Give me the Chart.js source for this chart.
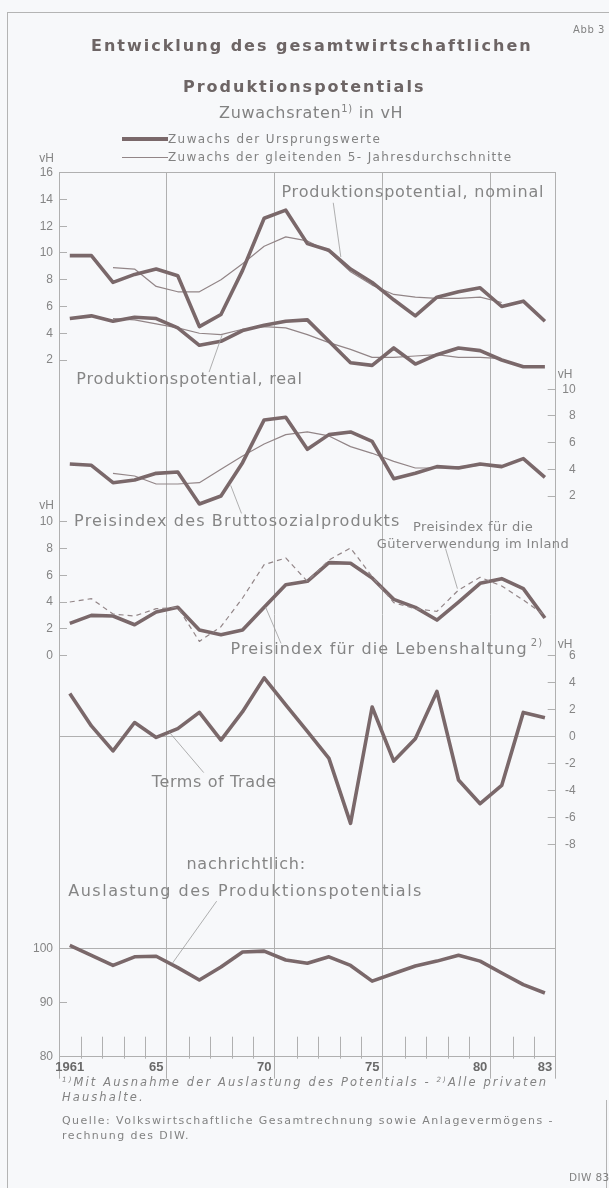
<!DOCTYPE html>
<html lang="de"><head><meta charset="utf-8"><title>Entwicklung des gesamtwirtschaftlichen Produktionspotentials</title>
<script src="https://cdn.jsdelivr.net/npm/chart.js@4.4.1/dist/chart.umd.min.js"></script>
<style>
html,body{margin:0;padding:0;background:#f7f8fa;}
#wrap{position:relative;width:609px;height:1188px;overflow:hidden;font-family:'DejaVu Sans',sans-serif;color:#828282;}
#c{position:absolute;left:0;top:0;}
.t{position:absolute;white-space:nowrap;line-height:1;}
.ln{position:absolute;}
.fr{position:absolute;background:#b4b4b4;}
sup{font-size:0.62em;vertical-align:0;position:relative;top:-0.6em;}
</style></head><body>
<div id="wrap">
<canvas id="c" width="609" height="1188"></canvas>
<div class="fr" style="left:7px;top:12px;width:602px;height:1px"></div>
<div class="fr" style="left:7px;top:12px;width:1px;height:1176px"></div>
<div class="fr" style="left:606px;top:1100px;width:1px;height:88px"></div>
<div class="t" style="left:573px;top:25px;font-size:10px;letter-spacing:0.6px">Abb 3</div>
<div class="t" style="left:91px;top:38px;font-size:16px;font-weight:bold;letter-spacing:2px;color:#6d6565">Entwicklung des gesamtwirtschaftlichen</div>
<div class="t" style="left:183px;top:79px;font-size:16px;font-weight:bold;letter-spacing:2px;color:#6d6565">Produktionspotentials</div>
<div class="t" style="left:219px;top:105px;font-size:16px;letter-spacing:0.7px">Zuwachsraten<sup>1)</sup> in vH</div>
<div class="ln" style="left:122px;top:137px;width:46px;height:3.5px;background:#7a686a"></div>
<div class="t" style="left:168px;top:133px;font-size:12px;letter-spacing:1.4px">Zuwachs der Ursprungswerte</div>
<div class="ln" style="left:122px;top:156.5px;width:46px;height:1.2px;background:#928587"></div>
<div class="t" style="left:168px;top:151px;font-size:12px;letter-spacing:1.35px">Zuwachs der gleitenden 5- Jahresdurchschnitte</div>
<div class="t" style="left:62px;top:1077px;font-size:11.5px;letter-spacing:2.1px;font-style:italic"><sup>1)</sup>Mit Ausnahme der Auslastung des Potentials - <sup>2)</sup>Alle privaten</div>
<div class="t" style="left:62px;top:1092px;font-size:11.5px;letter-spacing:2.1px;font-style:italic">Haushalte.</div>
<div class="t" style="left:62px;top:1115px;font-size:11px;letter-spacing:1.45px">Quelle: Volkswirtschaftliche Gesamtrechnung sowie Anlagevermögens -</div>
<div class="t" style="left:62px;top:1130px;font-size:11px;letter-spacing:1.45px">rechnung des DIW.</div>
<div class="t" style="left:569px;top:1172px;font-size:10.5px;letter-spacing:0.4px">DIW 83</div>
</div>
<script>
// ---------- data ----------
const years = [1961,1962,1963,1964,1965,1966,1967,1968,1969,1970,1971,1972,1973,1974,1975,1976,1977,1978,1979,1980,1981,1982,1983];
const nominalGrowth = [9.8,9.8,7.8,8.4,8.8,8.3,4.5,5.4,8.7,12.6,13.2,10.7,10.2,8.8,7.8,6.5,5.3,6.7,7.1,7.4,6.0,6.4,4.9];
const nominalAvg5   = [null,null,8.9,8.8,7.5,7.1,7.1,8.0,9.2,10.5,11.2,10.9,10.1,8.6,7.6,6.9,6.7,6.6,6.6,6.7,6.3,null,null];
const realGrowth    = [5.1,5.3,4.9,5.2,5.1,4.4,3.1,3.4,4.2,4.6,4.9,5.0,3.4,1.8,1.6,2.9,1.7,2.4,2.9,2.7,2.0,1.5,1.5];
const realAvg5      = [null,null,5.1,5.0,4.7,4.4,4.0,3.9,4.3,4.5,4.4,3.9,3.3,2.8,2.2,2.2,2.3,2.4,2.2,2.2,2.1,null,null];
const gnpDeflator   = [4.4,4.3,3.0,3.2,3.7,3.8,1.4,2.0,4.5,7.7,7.9,5.5,6.6,6.8,6.1,3.3,3.7,4.2,4.1,4.4,4.2,4.8,3.4];
const gnpDeflAvg5   = [null,null,3.7,3.5,2.9,2.9,3.0,4.0,5.0,5.9,6.6,6.8,6.5,5.7,5.2,4.6,4.1,4.1,4.2,4.3,4.3,null,null];
const domesticUse   = [4.0,4.25,3.1,2.95,3.5,3.6,1.05,2.15,4.3,6.8,7.3,5.55,7.15,8.05,5.9,3.95,3.5,3.3,4.9,5.85,5.2,4.15,3.0];
const costOfLiving  = [2.4,3.0,2.95,2.3,3.25,3.6,1.9,1.55,1.9,3.6,5.3,5.55,6.95,6.9,5.8,4.2,3.6,2.65,4.0,5.4,5.75,5.0,2.8];
const termsOfTrade  = [3.2,0.8,-1.05,1.05,-0.05,0.6,1.8,-0.25,1.85,4.35,2.35,0.4,-1.6,-6.4,2.2,-1.8,-0.15,3.35,-3.2,-4.95,-3.6,1.8,1.4];
const utilization   = [100.6,98.75,96.9,98.5,98.6,96.5,94.2,96.6,99.4,99.55,97.9,97.3,98.5,96.9,94.0,95.4,96.8,97.7,98.8,97.7,95.5,93.35,91.8];

// tick labels
const xLabelYears = [1961,1965,1970,1975,1980,1983];
const xLabelText  = ['1961','65','70','75','80','83'];
const ticksA = [16,14,12,10,8,6,4,2];
const ticksB = [10,8,6,4,2];
const ticksC = [10,8,6,4,2,0];
const ticksD = [6,4,2,0,-2,-4,-6,-8];
const ticksE = [100,90,80];

// ---------- styles ----------
const THICK = '#7a686a', THIN = '#928587', GRID = '#b0b0b0', TXT = '#858585';
const NUMFONT = "'Liberation Sans','Arimo',sans-serif";
const tickFont = {family: NUMFONT, size: 12};
const CLEAR = 'rgba(0,0,0,0)';

const edges = years.map(y => y - 0.5).concat([years[years.length - 1] + 0.5]);
const majorEdges = edges.filter(e => (e + 0.5) % 5 === 1 || e === edges[0] || e === edges[edges.length - 1]);
const minorEdges = edges.filter(e => !majorEdges.includes(e));

const pts = vals => years.map((y, i) => ({x: y, y: vals[i]})).filter(p => p.y !== null);

function yScale(position, min, max, ticks, fullLines, border) {
  const right = position === 'right';
  return {
    type: 'linear', position, min, max, bounds: 'data',
    afterFit: s => { s.width = 0; if (!right) s._computeLabelArea = () => null; },
    afterBuildTicks: s => { s.ticks = ticks.map(v => ({value: v})); },
    grid: {
      color: c => (c.tick && fullLines.includes(c.tick.value)) ? GRID : CLEAR,
      tickColor: GRID, tickLength: -8, lineWidth: 1
    },
    border: {display: border, color: GRID, width: 1},
    ticks: {
      autoSkip: false, color: TXT, font: tickFont,
      mirror: right, crossAlign: 'near',
      padding: right ? 20 : 14,
      callback: v => String(v)
    }
  };
}

// annotation labels (data coordinates)
const notes = [
  {text: 'Produktionspotential, nominal', axis: 'yA', x: 1970.8, y: 14.5, size: 16, ls: 0.8},
  {text: 'Produktionspotential, real', axis: 'yA', x: 1961.3, y: 0.5, size: 16, ls: 0.8},
  {text: 'Preisindex des Bruttosozialprodukts', axis: 'yC', x: 1961.2, y: 10, size: 16, ls: 1.15},
  {text: 'Preisindex für die', axis: 'yC', x: 1979.67, y: 9.6, size: 13, ls: 0.4, align: 'center'},
  {text: 'Güterverwendung im Inland', axis: 'yC', x: 1979.67, y: 8.28, size: 13, ls: 0.4, align: 'center'},
  {text: 'Preisindex für die Lebenshaltung', axis: 'yC', x: 1968.44, y: 0.41, size: 16, ls: 1.1, sup: '2)'},
  {text: 'Terms of Trade', axis: 'yD', x: 1964.8, y: -3.43, size: 16, ls: 0.6},
  {text: 'nachrichtlich:', axis: 'yE', x: 1966.4, y: 115.6, size: 16, ls: 0.8},
  {text: 'Auslastung des Produktionspotentials', axis: 'yE', x: 1960.93, y: 110.6, size: 16, ls: 1.5}
];
const leaders = [
  {axis: 'yA', from: [1973.2, 13.75], to: [1973.55, 9.7]},
  {axis: 'yA', from: [1967.45, 1.1], to: [1968.05, 3.85]},
  {axis: 'yB', from: [1968.95, 0.7], to: [1968.45, 2.8]},
  {axis: 'yC', from: [1978.4, 8.0], to: [1978.95, 5.0]},
  {axis: 'yC', from: [1970.78, 0.9], to: [1970.07, 3.6]},
  {axis: 'yD', from: [1967.2, -2.65], to: [1965.6, 0.35]},
  {axis: 'yE', from: [1967.8, 108.8], to: [1965.75, 97.3]}
];
const unitLabels = [
  {axis: 'yA', value: 16, side: 'left', dy: -14},
  {axis: 'yB', value: 10, side: 'right', dy: -15},
  {axis: 'yC', value: 10, side: 'left', dy: -16},
  {axis: 'yD', value: 6, side: 'right', dy: -11}
];

const decor = {
  id: 'decor',
  afterDatasetsDraw(chart) {
    const {ctx, chartArea: a, scales: s} = chart;
    ctx.save();
    ctx.strokeStyle = GRID; ctx.lineWidth = 1;
    minorEdges.forEach(v => {
      const px = Math.round(s.x.getPixelForValue(v)) + 0.5;
      ctx.beginPath(); ctx.moveTo(px, a.bottom - 20); ctx.lineTo(px, a.bottom + 2); ctx.stroke();
    });
    ctx.strokeStyle = '#9c9c9c'; ctx.lineWidth = 0.8;
    leaders.forEach(l => {
      const sc = s[l.axis];
      ctx.beginPath();
      ctx.moveTo(s.x.getPixelForValue(l.from[0]), sc.getPixelForValue(l.from[1]));
      ctx.lineTo(s.x.getPixelForValue(l.to[0]), sc.getPixelForValue(l.to[1]));
      ctx.stroke();
    });
    ctx.fillStyle = TXT; ctx.textBaseline = 'middle';
    notes.forEach(n => {
      ctx.font = n.size + "px 'DejaVu Sans', sans-serif";
      ctx.letterSpacing = n.ls + 'px';
      ctx.textAlign = n.align || 'left';
      const px = s.x.getPixelForValue(n.x), py = s[n.axis].getPixelForValue(n.y);
      ctx.fillText(n.text, px, py);
      if (n.sup) {
        const w = ctx.measureText(n.text).width;
        ctx.font = Math.round(n.size * 0.65) + "px 'DejaVu Sans', sans-serif";
        ctx.fillText(n.sup, px + w + 3, py - 7);
      }
    });
    ctx.letterSpacing = '0px';
    ctx.font = tickFont.size + 'px ' + NUMFONT;
    unitLabels.forEach(u => {
      const py = s[u.axis].getPixelForValue(u.value) + u.dy;
      if (u.side === 'left') { ctx.textAlign = 'right'; ctx.fillText('vH', a.left - 5, py); }
      else { ctx.textAlign = 'left'; ctx.fillText('vH', a.right + 2, py); }
    });
    ctx.restore();
  }
};

const thick = (vals, axis) => ({data: pts(vals), yAxisID: axis, borderColor: THICK, borderWidth: 3.6, pointRadius: 0});
const thin = (vals, axis, dash) => ({data: pts(vals), yAxisID: axis, borderColor: THIN, borderWidth: 1.2, pointRadius: 0, borderDash: dash || []});

new Chart(document.getElementById('c'), {
  type: 'line',
  data: {datasets: [
    thick(nominalGrowth, 'yA'), thin(nominalAvg5, 'yA'),
    thick(realGrowth, 'yA'), thin(realAvg5, 'yA'),
    thick(gnpDeflator, 'yB'), thin(gnpDeflAvg5, 'yB'),
    thin(domesticUse, 'yC', [5, 4]), thick(costOfLiving, 'yC'),
    thick(termsOfTrade, 'yD'),
    thick(utilization, 'yE')
  ]},
  options: {
    responsive: false, animation: false, devicePixelRatio: 1,
    layout: {padding: {left: 59, right: 53.3, top: 172.7, bottom: 101.3}},
    plugins: {legend: {display: false}, tooltip: {enabled: false}},
    elements: {line: {tension: 0, borderJoinStyle: 'round', borderCapStyle: 'butt'}, point: {radius: 0}},
    scales: {
      x: {
        type: 'linear', bounds: 'data', min: edges[0], max: edges[edges.length - 1],
        afterFit: s => { s.height = 30; },
        afterBuildTicks: s => {
          s.ticks = edges.concat(xLabelYears).sort((p, q) => p - q).map(v => ({value: v}));
        },
        grid: {color: c => (c.tick && majorEdges.includes(c.tick.value)) ? GRID : CLEAR, tickLength: 22, lineWidth: 1},
        border: {display: true, color: GRID, width: 1},
        ticks: {
          autoSkip: false, maxRotation: 0, padding: -19, color: '#6a6a6a',
          font: {family: NUMFONT, size: 13, weight: 'bold'},
          callback: v => { const i = xLabelYears.indexOf(v); return i >= 0 ? xLabelText[i] : ''; }
        }
      },
      yA: yScale('left', -50.07, 16, ticksA, [16], true),
      yC: yScale('left', -30.06, 36.16, ticksC, [], false),
      yE: yScale('left', 80, 243.7, ticksE, [100], false),
      yB: yScale('right', -40.0, 26.22, ticksB, [], true),
      yD: yScale('right', -23.65, 41.69, ticksD, [0], false)
    }
  },
  plugins: [decor]
});
</script>
</body></html>
